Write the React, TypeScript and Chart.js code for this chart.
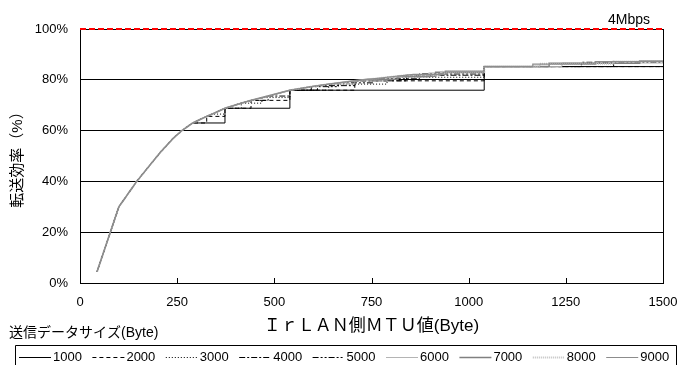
import { useEffect, useRef } from "react";
import { Chart, registerables } from "chart.js";

Chart.register(...registerables);

const FONT = "'Liberation Sans', Arial, 'Noto Sans CJK JP', sans-serif";

const xTickStep = 250;
const xRange = [0, 1500];
const yRange = [0, 100];
const yTickStep = 20;
const xTitle = "ＩｒＬＡＮ側ＭＴＵ値(Byte)";
const yTitle = "転送効率（%）";
const legendTitle = "送信データサイズ(Byte)";
const speedLabel = "4Mbps";
const speedLine = [[0, 100], [1500, 100]];

const sizeLabels = ["1000", "2000", "3000", "4000", "5000", "6000", "7000", "8000", "9000"];

const commonStart = [[44, 4.5], [100, 30], [146, 40], [183, 47], [207, 51.5], [240, 57], [262, 60], [290, 63]];

const series1000 = [[373, 63], [373, 68.8], [540, 68.8], [540, 75.9], [1040, 75.9], [1040, 85.2], [1500, 85.2]];
const series2000 = [[326, 63], [326, 65.6], [373, 65.6], [373, 68.8], [440, 68.8], [440, 71.9], [540, 71.9], [540, 75.9], [707, 75.9], [707, 79.6], [1040, 79.6], [1040, 85.2], [1500, 85.2]];
const series3000 = [[326, 65.6], [340, 66.5], [373, 66.5], [373, 68.8], [415, 68.8], [415, 70.8], [468, 70.8], [468, 73], [540, 73], [540, 75.9], [640, 75.9], [640, 78.3], [790, 78.3], [790, 81], [1040, 81], [1040, 85.2], [1500, 85.2]];
const series4000 = [[326, 65.6], [340, 66.5], [373, 68.8], [415, 70.8], [440, 71.9], [484, 71.9], [484, 73.6], [540, 73.6], [540, 75.9], [611, 75.9], [611, 77.7], [707, 77.7], [707, 79.6], [840, 79.6], [840, 81.8], [1040, 81.8], [1040, 85.2], [1373, 85.2], [1373, 87.2], [1500, 87.2]];
const series5000 = [[326, 65.6], [340, 66.5], [373, 68.8], [415, 70.8], [440, 71.9], [484, 73.6], [540, 75.9], [595, 75.9], [595, 77.3], [665, 77.3], [665, 78.8], [754, 78.8], [754, 80.4], [873, 80.4], [873, 82.3], [1040, 82.3], [1040, 85.2], [1290, 85.2], [1290, 86.9], [1500, 86.9]];
const series6000 = [[326, 65.6], [340, 66.5], [373, 68.8], [415, 70.8], [440, 71.9], [484, 73.6], [540, 75.9], [595, 77.3], [640, 78.3], [707, 78.3], [707, 79.6], [790, 79.6], [790, 81], [897, 81], [897, 82.7], [1040, 82.7], [1040, 85.2], [1240, 85.2], [1240, 86.6], [1500, 86.6]];
const series7000 = [[326, 65.6], [340, 66.5], [373, 68.8], [415, 70.8], [440, 71.9], [484, 73.6], [540, 75.9], [595, 77.3], [640, 78.3], [707, 79.6], [740, 80.2], [818, 80.2], [818, 81.4], [915, 81.4], [915, 83], [1040, 83], [1040, 85.2], [1207, 85.2], [1207, 86.5], [1440, 86.5], [1440, 87.4], [1500, 87.4]];
const series8000 = [[326, 65.6], [340, 66.5], [373, 68.8], [415, 70.8], [440, 71.9], [484, 73.6], [540, 75.9], [595, 77.3], [640, 78.3], [707, 79.6], [754, 80.4], [790, 81], [840, 81.8], [929, 81.8], [929, 83.2], [1040, 83.2], [1040, 85.2], [1183, 85.2], [1183, 86.3], [1373, 86.3], [1373, 87.2], [1500, 87.2]];
const series9000 = [[326, 65.6], [340, 66.5], [373, 68.8], [415, 70.8], [440, 71.9], [484, 73.6], [540, 75.9], [595, 77.3], [640, 78.3], [707, 79.6], [754, 80.4], [790, 81], [858, 82.1], [940, 82.1], [940, 83.4], [1040, 83.4], [1040, 85.2], [1165, 85.2], [1165, 86.2], [1326, 86.2], [1326, 87.2], [1500, 87.2]];

const seriesTails = [series1000, series2000, series3000, series4000, series5000, series6000, series7000, series8000, series9000];

const lineColors = ["#000000", "#000000", "#000000", "#000000", "#000000", "#b4b4b4", "#808080", "#c0c0c0", "#8c8c8c"];
const lineDashes: number[][] = [[], [4, 3], [1, 2], [6, 2, 2, 2], [6, 2, 2, 2, 2, 2], [], [], [1, 1], []];
const lineWidths = [1, 1, 1, 1, 1, 1, 1.5, 2, 1.2];

const toXY = (arr: number[][]) => arr.map(([x, y]) => ({ x, y }));

export default function App() {
  const ref = useRef<HTMLCanvasElement | null>(null);

  useEffect(() => {
    if (!ref.current) return;

    const sizeDatasets = sizeLabels.map((label, i) => ({
      label,
      data: toXY([...commonStart, ...seriesTails[i]]),
      borderColor: lineColors[i],
      backgroundColor: lineColors[i],
      borderWidth: lineWidths[i],
      borderDash: lineDashes[i],
      pointRadius: 0,
      fill: false,
      tension: 0,
      order: 20 - i,
    }));

    const decor = {
      id: "decor",
      afterDraw(chart: any) {
        const { ctx, chartArea } = chart;
        const xs = chart.scales.x;
        ctx.save();
        ctx.strokeStyle = "#000";
        ctx.lineWidth = 1;
        ctx.setLineDash([]);
        ctx.beginPath();
        ctx.moveTo(Math.round(chartArea.right) + 0.5, chartArea.top);
        ctx.lineTo(Math.round(chartArea.right) + 0.5, chartArea.bottom);
        ctx.stroke();
        xs.ticks.forEach((t: any) => {
          const px = Math.round(xs.getPixelForValue(t.value)) + 0.5;
          ctx.beginPath();
          ctx.moveTo(px, chartArea.bottom);
          ctx.lineTo(px, chartArea.bottom - 5);
          ctx.stroke();
        });
        ctx.fillStyle = "#000";
        ctx.font = `14px ${FONT}`;
        ctx.textAlign = "right";
        ctx.textBaseline = "middle";
        ctx.fillText(speedLabel, chartArea.right - 13, 20);
        ctx.textAlign = "left";
        ctx.font = `14px ${FONT}`;
        ctx.fillText(legendTitle, 9, 333);
        ctx.beginPath();
        ctx.rect(15.5, 345.5, 661, 30);
        ctx.stroke();
        ctx.font = `13px ${FONT}`;
        const ly = 357.5;
        chart.data.datasets.forEach((ds: any, i: number) => {
          if (i >= sizeLabels.length) return;
          const x0 = 19 + i * 73.4;
          ctx.strokeStyle = ds.borderColor;
          ctx.lineWidth = ds.borderWidth;
          ctx.setLineDash(ds.borderDash || []);
          ctx.beginPath();
          ctx.moveTo(x0, ly);
          ctx.lineTo(x0 + 32, ly);
          ctx.stroke();
          ctx.setLineDash([]);
          ctx.fillStyle = "#000";
          ctx.fillText(ds.label, x0 + 34, ly);
        });
        ctx.restore();
      },
    };

    const chart = new Chart(ref.current, {
      type: "line",
      data: {
        datasets: [
          ...sizeDatasets,
          {
            label: speedLabel,
            data: toXY(speedLine),
            borderColor: "#ff0000",
            borderWidth: 2,
            borderDash: [6, 3],
            pointRadius: 0,
            fill: false,
            clip: false,
            order: 0,
          } as any,
        ],
      },
      options: {
        animation: false,
        responsive: false,
        layout: { padding: { left: 9, right: 17, top: 29, bottom: 28 } },
        plugins: { legend: { display: false }, tooltip: { enabled: false } },
        scales: {
          x: {
            type: "linear",
            min: xRange[0],
            max: xRange[1],
            afterFit: (s: any) => { s.height = 54; s.paddingRight = 0; s.paddingLeft = 0; },
            ticks: { stepSize: xTickStep, color: "#000", font: { family: FONT, size: 13 }, padding: 12, maxRotation: 0, callback: (v: any) => String(v) },
            grid: { display: false, drawTicks: false },
            border: { display: true, color: "#000", width: 1 },
            title: { display: true, text: xTitle, color: "#000", font: { family: FONT, size: 17 }, padding: { top: 0, bottom: 0 } },
          },
          y: {
            type: "linear",
            min: yRange[0],
            max: yRange[1],
            afterFit: (s: any) => { s.width = 71; s.paddingTop = 0; s.paddingBottom = 0; },
            ticks: { stepSize: yTickStep, color: "#000", font: { family: FONT, size: 13 }, padding: 12, callback: (v: any) => `${v}%` },
            grid: { color: "#000", lineWidth: 1, drawTicks: false },
            border: { display: true, color: "#000", width: 1 },
            title: { display: true, text: yTitle, color: "#000", font: { family: FONT, size: 15 }, padding: { top: 0, bottom: 0 } },
          },
        },
      },
      plugins: [decor],
    });

    return () => chart.destroy();
  }, []);

  return (
    <div style={{ position: "absolute", left: 0, top: 0, width: 680, height: 365, background: "#fff" }}>
      <canvas ref={ref} width={680} height={365} />
    </div>
  );
}
